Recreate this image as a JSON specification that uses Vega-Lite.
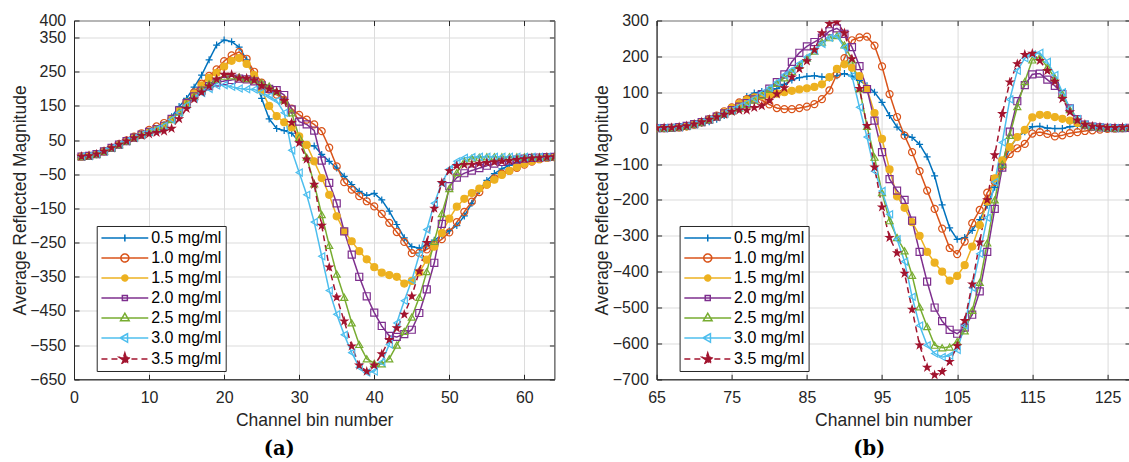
{
"$schema": "https://vega.github.io/schema/vega-lite/v6.json",
"background": "white",
"padding": {"left": 10, "top": 11.5, "right": 0, "bottom": 0},
"config": {
  "font": "Liberation Sans",
  "view": {"stroke": "#262626", "strokeWidth": 1},
  "axis": {"labelFont": "Liberation Sans", "labelFontSize": 16, "labelColor": "#262626", "titleFont": "Liberation Sans", "titleFontSize": 17.5, "titleFontWeight": "normal", "titleColor": "#262626", "domainColor": "#262626", "tickColor": "#262626", "gridColor": "#dcdcdc", "labelFlush": false, "labelOverlap": false},
  "legend": {"title": null, "orient": "none", "legendY": 205.5, "fillColor": "white", "strokeColor": "#262626", "padding": 4, "cornerRadius": 0, "labelFont": "Liberation Sans", "labelFontSize": 16, "labelColor": "#000000", "symbolSize": 144, "symbolStrokeWidth": 1.5, "symbolOpacity": 1, "symbolOffset": 16.15, "labelOffset": 18.3, "rowPadding": 4}
},
"data": {"values": [
{"p":"a","s":"0.5","c":1,"v":2},{"p":"a","s":"0.5","c":2,"v":4},{"p":"a","s":"0.5","c":3,"v":9},{"p":"a","s":"0.5","c":4,"v":17},{"p":"a","s":"0.5","c":5,"v":27},{"p":"a","s":"0.5","c":6,"v":37},{"p":"a","s":"0.5","c":7,"v":47},{"p":"a","s":"0.5","c":8,"v":57},{"p":"a","s":"0.5","c":9,"v":66},{"p":"a","s":"0.5","c":10,"v":74},
{"p":"a","s":"0.5","c":11,"v":82},{"p":"a","s":"0.5","c":12,"v":95},{"p":"a","s":"0.5","c":13,"v":118},{"p":"a","s":"0.5","c":14,"v":148},{"p":"a","s":"0.5","c":15,"v":172},{"p":"a","s":"0.5","c":16,"v":205},{"p":"a","s":"0.5","c":17,"v":240},{"p":"a","s":"0.5","c":18,"v":285},{"p":"a","s":"0.5","c":19,"v":328},{"p":"a","s":"0.5","c":20,"v":343},
{"p":"a","s":"0.5","c":21,"v":338},{"p":"a","s":"0.5","c":22,"v":322},{"p":"a","s":"0.5","c":23,"v":285},{"p":"a","s":"0.5","c":24,"v":235},{"p":"a","s":"0.5","c":25,"v":172},{"p":"a","s":"0.5","c":26,"v":112},{"p":"a","s":"0.5","c":27,"v":84},{"p":"a","s":"0.5","c":28,"v":78},{"p":"a","s":"0.5","c":29,"v":70},{"p":"a","s":"0.5","c":30,"v":45},
{"p":"a","s":"0.5","c":31,"v":35},{"p":"a","s":"0.5","c":32,"v":33},{"p":"a","s":"0.5","c":33,"v":8},{"p":"a","s":"0.5","c":34,"v":-12},{"p":"a","s":"0.5","c":35,"v":-32},{"p":"a","s":"0.5","c":36,"v":-56},{"p":"a","s":"0.5","c":37,"v":-80},{"p":"a","s":"0.5","c":38,"v":-100},{"p":"a","s":"0.5","c":39,"v":-112},{"p":"a","s":"0.5","c":40,"v":-106},
{"p":"a","s":"0.5","c":41,"v":-125},{"p":"a","s":"0.5","c":42,"v":-158},{"p":"a","s":"0.5","c":43,"v":-197},{"p":"a","s":"0.5","c":44,"v":-236},{"p":"a","s":"0.5","c":45,"v":-262},{"p":"a","s":"0.5","c":46,"v":-266},{"p":"a","s":"0.5","c":47,"v":-258},{"p":"a","s":"0.5","c":48,"v":-243},{"p":"a","s":"0.5","c":49,"v":-228},{"p":"a","s":"0.5","c":50,"v":-215},
{"p":"a","s":"0.5","c":51,"v":-200},{"p":"a","s":"0.5","c":52,"v":-172},{"p":"a","s":"0.5","c":53,"v":-135},{"p":"a","s":"0.5","c":54,"v":-98},{"p":"a","s":"0.5","c":55,"v":-68},{"p":"a","s":"0.5","c":56,"v":-48},{"p":"a","s":"0.5","c":57,"v":-34},{"p":"a","s":"0.5","c":58,"v":-24},{"p":"a","s":"0.5","c":59,"v":-16},{"p":"a","s":"0.5","c":60,"v":-10},
{"p":"a","s":"0.5","c":61,"v":-6},{"p":"a","s":"0.5","c":62,"v":-3},{"p":"a","s":"0.5","c":63,"v":-1},{"p":"a","s":"0.5","c":64,"v":1},
{"p":"a","s":"1.0","c":1,"v":2},{"p":"a","s":"1.0","c":2,"v":4},{"p":"a","s":"1.0","c":3,"v":9},{"p":"a","s":"1.0","c":4,"v":17},{"p":"a","s":"1.0","c":5,"v":27},{"p":"a","s":"1.0","c":6,"v":38},{"p":"a","s":"1.0","c":7,"v":49},{"p":"a","s":"1.0","c":8,"v":60},{"p":"a","s":"1.0","c":9,"v":70},{"p":"a","s":"1.0","c":10,"v":80},
{"p":"a","s":"1.0","c":11,"v":90},{"p":"a","s":"1.0","c":12,"v":100},{"p":"a","s":"1.0","c":13,"v":112},{"p":"a","s":"1.0","c":14,"v":135},{"p":"a","s":"1.0","c":15,"v":160},{"p":"a","s":"1.0","c":16,"v":190},{"p":"a","s":"1.0","c":17,"v":215},{"p":"a","s":"1.0","c":18,"v":238},{"p":"a","s":"1.0","c":19,"v":257},{"p":"a","s":"1.0","c":20,"v":281},
{"p":"a","s":"1.0","c":21,"v":298},{"p":"a","s":"1.0","c":22,"v":308},{"p":"a","s":"1.0","c":23,"v":288},{"p":"a","s":"1.0","c":24,"v":250},{"p":"a","s":"1.0","c":25,"v":218},{"p":"a","s":"1.0","c":26,"v":198},{"p":"a","s":"1.0","c":27,"v":183},{"p":"a","s":"1.0","c":28,"v":168},{"p":"a","s":"1.0","c":29,"v":142},{"p":"a","s":"1.0","c":30,"v":124},
{"p":"a","s":"1.0","c":31,"v":110},{"p":"a","s":"1.0","c":32,"v":96},{"p":"a","s":"1.0","c":33,"v":76},{"p":"a","s":"1.0","c":34,"v":28},{"p":"a","s":"1.0","c":35,"v":-27},{"p":"a","s":"1.0","c":36,"v":-73},{"p":"a","s":"1.0","c":37,"v":-95},{"p":"a","s":"1.0","c":38,"v":-114},{"p":"a","s":"1.0","c":39,"v":-129},{"p":"a","s":"1.0","c":40,"v":-144},
{"p":"a","s":"1.0","c":41,"v":-166},{"p":"a","s":"1.0","c":42,"v":-192},{"p":"a","s":"1.0","c":43,"v":-219},{"p":"a","s":"1.0","c":44,"v":-248},{"p":"a","s":"1.0","c":45,"v":-281},{"p":"a","s":"1.0","c":46,"v":-280},{"p":"a","s":"1.0","c":47,"v":-270},{"p":"a","s":"1.0","c":48,"v":-257},{"p":"a","s":"1.0","c":49,"v":-240},{"p":"a","s":"1.0","c":50,"v":-220},
{"p":"a","s":"1.0","c":51,"v":-190},{"p":"a","s":"1.0","c":52,"v":-160},{"p":"a","s":"1.0","c":53,"v":-130},{"p":"a","s":"1.0","c":54,"v":-102},{"p":"a","s":"1.0","c":55,"v":-80},{"p":"a","s":"1.0","c":56,"v":-62},{"p":"a","s":"1.0","c":57,"v":-48},{"p":"a","s":"1.0","c":58,"v":-40},{"p":"a","s":"1.0","c":59,"v":-31},{"p":"a","s":"1.0","c":60,"v":-22},
{"p":"a","s":"1.0","c":61,"v":-13},{"p":"a","s":"1.0","c":62,"v":-6},{"p":"a","s":"1.0","c":63,"v":-2},{"p":"a","s":"1.0","c":64,"v":0},
{"p":"a","s":"1.5","c":1,"v":2},{"p":"a","s":"1.5","c":2,"v":4},{"p":"a","s":"1.5","c":3,"v":9},{"p":"a","s":"1.5","c":4,"v":17},{"p":"a","s":"1.5","c":5,"v":27},{"p":"a","s":"1.5","c":6,"v":37},{"p":"a","s":"1.5","c":7,"v":47},{"p":"a","s":"1.5","c":8,"v":57},{"p":"a","s":"1.5","c":9,"v":66},{"p":"a","s":"1.5","c":10,"v":74},
{"p":"a","s":"1.5","c":11,"v":82},{"p":"a","s":"1.5","c":12,"v":92},{"p":"a","s":"1.5","c":13,"v":112},{"p":"a","s":"1.5","c":14,"v":135},{"p":"a","s":"1.5","c":15,"v":160},{"p":"a","s":"1.5","c":16,"v":185},{"p":"a","s":"1.5","c":17,"v":210},{"p":"a","s":"1.5","c":18,"v":232},{"p":"a","s":"1.5","c":19,"v":247},{"p":"a","s":"1.5","c":20,"v":265},
{"p":"a","s":"1.5","c":21,"v":282},{"p":"a","s":"1.5","c":22,"v":290},{"p":"a","s":"1.5","c":23,"v":273},{"p":"a","s":"1.5","c":24,"v":240},{"p":"a","s":"1.5","c":25,"v":195},{"p":"a","s":"1.5","c":26,"v":150},{"p":"a","s":"1.5","c":27,"v":120},{"p":"a","s":"1.5","c":28,"v":102},{"p":"a","s":"1.5","c":29,"v":87},{"p":"a","s":"1.5","c":30,"v":61},
{"p":"a","s":"1.5","c":31,"v":36},{"p":"a","s":"1.5","c":32,"v":-12},{"p":"a","s":"1.5","c":33,"v":-61},{"p":"a","s":"1.5","c":34,"v":-110},{"p":"a","s":"1.5","c":35,"v":-173},{"p":"a","s":"1.5","c":36,"v":-217},{"p":"a","s":"1.5","c":37,"v":-246},{"p":"a","s":"1.5","c":38,"v":-275},{"p":"a","s":"1.5","c":39,"v":-299},{"p":"a","s":"1.5","c":40,"v":-322},
{"p":"a","s":"1.5","c":41,"v":-338},{"p":"a","s":"1.5","c":42,"v":-345},{"p":"a","s":"1.5","c":43,"v":-350},{"p":"a","s":"1.5","c":44,"v":-370},{"p":"a","s":"1.5","c":45,"v":-362},{"p":"a","s":"1.5","c":46,"v":-337},{"p":"a","s":"1.5","c":47,"v":-300},{"p":"a","s":"1.5","c":48,"v":-262},{"p":"a","s":"1.5","c":49,"v":-222},{"p":"a","s":"1.5","c":50,"v":-180},
{"p":"a","s":"1.5","c":51,"v":-145},{"p":"a","s":"1.5","c":52,"v":-122},{"p":"a","s":"1.5","c":53,"v":-105},{"p":"a","s":"1.5","c":54,"v":-92},{"p":"a","s":"1.5","c":55,"v":-80},{"p":"a","s":"1.5","c":56,"v":-66},{"p":"a","s":"1.5","c":57,"v":-52},{"p":"a","s":"1.5","c":58,"v":-40},{"p":"a","s":"1.5","c":59,"v":-29},{"p":"a","s":"1.5","c":60,"v":-19},
{"p":"a","s":"1.5","c":61,"v":-11},{"p":"a","s":"1.5","c":62,"v":-5},{"p":"a","s":"1.5","c":63,"v":-2},{"p":"a","s":"1.5","c":64,"v":0},
{"p":"a","s":"2.0","c":1,"v":2},{"p":"a","s":"2.0","c":2,"v":4},{"p":"a","s":"2.0","c":3,"v":9},{"p":"a","s":"2.0","c":4,"v":17},{"p":"a","s":"2.0","c":5,"v":27},{"p":"a","s":"2.0","c":6,"v":37},{"p":"a","s":"2.0","c":7,"v":47},{"p":"a","s":"2.0","c":8,"v":57},{"p":"a","s":"2.0","c":9,"v":66},{"p":"a","s":"2.0","c":10,"v":74},
{"p":"a","s":"2.0","c":11,"v":82},{"p":"a","s":"2.0","c":12,"v":92},{"p":"a","s":"2.0","c":13,"v":112},{"p":"a","s":"2.0","c":14,"v":137},{"p":"a","s":"2.0","c":15,"v":158},{"p":"a","s":"2.0","c":16,"v":178},{"p":"a","s":"2.0","c":17,"v":195},{"p":"a","s":"2.0","c":18,"v":208},{"p":"a","s":"2.0","c":19,"v":218},{"p":"a","s":"2.0","c":20,"v":223},
{"p":"a","s":"2.0","c":21,"v":226},{"p":"a","s":"2.0","c":22,"v":230},{"p":"a","s":"2.0","c":23,"v":228},{"p":"a","s":"2.0","c":24,"v":222},{"p":"a","s":"2.0","c":25,"v":210},{"p":"a","s":"2.0","c":26,"v":200},{"p":"a","s":"2.0","c":27,"v":196},{"p":"a","s":"2.0","c":28,"v":182},{"p":"a","s":"2.0","c":29,"v":140},{"p":"a","s":"2.0","c":30,"v":104},
{"p":"a","s":"2.0","c":31,"v":96},{"p":"a","s":"2.0","c":32,"v":78},{"p":"a","s":"2.0","c":33,"v":-10},{"p":"a","s":"2.0","c":34,"v":-75},{"p":"a","s":"2.0","c":35,"v":-135},{"p":"a","s":"2.0","c":36,"v":-217},{"p":"a","s":"2.0","c":37,"v":-285},{"p":"a","s":"2.0","c":38,"v":-350},{"p":"a","s":"2.0","c":39,"v":-407},{"p":"a","s":"2.0","c":40,"v":-455},
{"p":"a","s":"2.0","c":41,"v":-494},{"p":"a","s":"2.0","c":42,"v":-523},{"p":"a","s":"2.0","c":43,"v":-526},{"p":"a","s":"2.0","c":44,"v":-518},{"p":"a","s":"2.0","c":45,"v":-505},{"p":"a","s":"2.0","c":46,"v":-456},{"p":"a","s":"2.0","c":47,"v":-387},{"p":"a","s":"2.0","c":48,"v":-309},{"p":"a","s":"2.0","c":49,"v":-195},{"p":"a","s":"2.0","c":50,"v":-85},
{"p":"a","s":"2.0","c":51,"v":-60},{"p":"a","s":"2.0","c":52,"v":-47},{"p":"a","s":"2.0","c":53,"v":-39},{"p":"a","s":"2.0","c":54,"v":-32},{"p":"a","s":"2.0","c":55,"v":-25},{"p":"a","s":"2.0","c":56,"v":-19},{"p":"a","s":"2.0","c":57,"v":-14},{"p":"a","s":"2.0","c":58,"v":-10},{"p":"a","s":"2.0","c":59,"v":-7},{"p":"a","s":"2.0","c":60,"v":-4},
{"p":"a","s":"2.0","c":61,"v":-2},{"p":"a","s":"2.0","c":62,"v":-1},{"p":"a","s":"2.0","c":63,"v":0},{"p":"a","s":"2.0","c":64,"v":1},
{"p":"a","s":"2.5","c":1,"v":2},{"p":"a","s":"2.5","c":2,"v":4},{"p":"a","s":"2.5","c":3,"v":9},{"p":"a","s":"2.5","c":4,"v":17},{"p":"a","s":"2.5","c":5,"v":27},{"p":"a","s":"2.5","c":6,"v":37},{"p":"a","s":"2.5","c":7,"v":47},{"p":"a","s":"2.5","c":8,"v":57},{"p":"a","s":"2.5","c":9,"v":66},{"p":"a","s":"2.5","c":10,"v":74},
{"p":"a","s":"2.5","c":11,"v":82},{"p":"a","s":"2.5","c":12,"v":92},{"p":"a","s":"2.5","c":13,"v":110},{"p":"a","s":"2.5","c":14,"v":132},{"p":"a","s":"2.5","c":15,"v":156},{"p":"a","s":"2.5","c":16,"v":178},{"p":"a","s":"2.5","c":17,"v":198},{"p":"a","s":"2.5","c":18,"v":215},{"p":"a","s":"2.5","c":19,"v":228},{"p":"a","s":"2.5","c":20,"v":237},
{"p":"a","s":"2.5","c":21,"v":238},{"p":"a","s":"2.5","c":22,"v":235},{"p":"a","s":"2.5","c":23,"v":230},{"p":"a","s":"2.5","c":24,"v":226},{"p":"a","s":"2.5","c":25,"v":218},{"p":"a","s":"2.5","c":26,"v":208},{"p":"a","s":"2.5","c":27,"v":192},{"p":"a","s":"2.5","c":28,"v":168},{"p":"a","s":"2.5","c":29,"v":130},{"p":"a","s":"2.5","c":30,"v":58},
{"p":"a","s":"2.5","c":31,"v":0},{"p":"a","s":"2.5","c":32,"v":-78},{"p":"a","s":"2.5","c":33,"v":-168},{"p":"a","s":"2.5","c":34,"v":-258},{"p":"a","s":"2.5","c":35,"v":-342},{"p":"a","s":"2.5","c":36,"v":-410},{"p":"a","s":"2.5","c":37,"v":-485},{"p":"a","s":"2.5","c":38,"v":-548},{"p":"a","s":"2.5","c":39,"v":-590},{"p":"a","s":"2.5","c":40,"v":-603},
{"p":"a","s":"2.5","c":41,"v":-605},{"p":"a","s":"2.5","c":42,"v":-590},{"p":"a","s":"2.5","c":43,"v":-550},{"p":"a","s":"2.5","c":44,"v":-510},{"p":"a","s":"2.5","c":45,"v":-468},{"p":"a","s":"2.5","c":46,"v":-410},{"p":"a","s":"2.5","c":47,"v":-335},{"p":"a","s":"2.5","c":48,"v":-246},{"p":"a","s":"2.5","c":49,"v":-165},{"p":"a","s":"2.5","c":50,"v":-92},
{"p":"a","s":"2.5","c":51,"v":-45},{"p":"a","s":"2.5","c":52,"v":-12},{"p":"a","s":"2.5","c":53,"v":-3},{"p":"a","s":"2.5","c":54,"v":0},{"p":"a","s":"2.5","c":55,"v":1},{"p":"a","s":"2.5","c":56,"v":1},{"p":"a","s":"2.5","c":57,"v":1},{"p":"a","s":"2.5","c":58,"v":1},{"p":"a","s":"2.5","c":59,"v":1},{"p":"a","s":"2.5","c":60,"v":1},
{"p":"a","s":"2.5","c":61,"v":1},{"p":"a","s":"2.5","c":62,"v":1},{"p":"a","s":"2.5","c":63,"v":1},{"p":"a","s":"2.5","c":64,"v":1},
{"p":"a","s":"3.0","c":1,"v":2},{"p":"a","s":"3.0","c":2,"v":4},{"p":"a","s":"3.0","c":3,"v":9},{"p":"a","s":"3.0","c":4,"v":17},{"p":"a","s":"3.0","c":5,"v":27},{"p":"a","s":"3.0","c":6,"v":37},{"p":"a","s":"3.0","c":7,"v":47},{"p":"a","s":"3.0","c":8,"v":57},{"p":"a","s":"3.0","c":9,"v":66},{"p":"a","s":"3.0","c":10,"v":74},
{"p":"a","s":"3.0","c":11,"v":82},{"p":"a","s":"3.0","c":12,"v":92},{"p":"a","s":"3.0","c":13,"v":110},{"p":"a","s":"3.0","c":14,"v":130},{"p":"a","s":"3.0","c":15,"v":152},{"p":"a","s":"3.0","c":16,"v":172},{"p":"a","s":"3.0","c":17,"v":188},{"p":"a","s":"3.0","c":18,"v":200},{"p":"a","s":"3.0","c":19,"v":210},{"p":"a","s":"3.0","c":20,"v":211},
{"p":"a","s":"3.0","c":21,"v":206},{"p":"a","s":"3.0","c":22,"v":201},{"p":"a","s":"3.0","c":23,"v":199},{"p":"a","s":"3.0","c":24,"v":198},{"p":"a","s":"3.0","c":25,"v":190},{"p":"a","s":"3.0","c":26,"v":178},{"p":"a","s":"3.0","c":27,"v":165},{"p":"a","s":"3.0","c":28,"v":130},{"p":"a","s":"3.0","c":29,"v":20},{"p":"a","s":"3.0","c":30,"v":-45},
{"p":"a","s":"3.0","c":31,"v":-110},{"p":"a","s":"3.0","c":32,"v":-190},{"p":"a","s":"3.0","c":33,"v":-290},{"p":"a","s":"3.0","c":34,"v":-390},{"p":"a","s":"3.0","c":35,"v":-460},{"p":"a","s":"3.0","c":36,"v":-520},{"p":"a","s":"3.0","c":37,"v":-572},{"p":"a","s":"3.0","c":38,"v":-615},{"p":"a","s":"3.0","c":39,"v":-630},{"p":"a","s":"3.0","c":40,"v":-627},
{"p":"a","s":"3.0","c":41,"v":-600},{"p":"a","s":"3.0","c":42,"v":-548},{"p":"a","s":"3.0","c":43,"v":-485},{"p":"a","s":"3.0","c":44,"v":-420},{"p":"a","s":"3.0","c":45,"v":-360},{"p":"a","s":"3.0","c":46,"v":-285},{"p":"a","s":"3.0","c":47,"v":-212},{"p":"a","s":"3.0","c":48,"v":-135},{"p":"a","s":"3.0","c":49,"v":-75},{"p":"a","s":"3.0","c":50,"v":-35},
{"p":"a","s":"3.0","c":51,"v":-12},{"p":"a","s":"3.0","c":52,"v":-2},{"p":"a","s":"3.0","c":53,"v":0},{"p":"a","s":"3.0","c":54,"v":1},{"p":"a","s":"3.0","c":55,"v":1},{"p":"a","s":"3.0","c":56,"v":1},{"p":"a","s":"3.0","c":57,"v":1},{"p":"a","s":"3.0","c":58,"v":1},{"p":"a","s":"3.0","c":59,"v":1},{"p":"a","s":"3.0","c":60,"v":1},
{"p":"a","s":"3.0","c":61,"v":1},{"p":"a","s":"3.0","c":62,"v":1},{"p":"a","s":"3.0","c":63,"v":1},{"p":"a","s":"3.0","c":64,"v":1},
{"p":"a","s":"3.5","c":1,"v":2},{"p":"a","s":"3.5","c":2,"v":4},{"p":"a","s":"3.5","c":3,"v":9},{"p":"a","s":"3.5","c":4,"v":17},{"p":"a","s":"3.5","c":5,"v":27},{"p":"a","s":"3.5","c":6,"v":37},{"p":"a","s":"3.5","c":7,"v":47},{"p":"a","s":"3.5","c":8,"v":56},{"p":"a","s":"3.5","c":9,"v":63},{"p":"a","s":"3.5","c":10,"v":68},
{"p":"a","s":"3.5","c":11,"v":72},{"p":"a","s":"3.5","c":12,"v":76},{"p":"a","s":"3.5","c":13,"v":84},{"p":"a","s":"3.5","c":14,"v":112},{"p":"a","s":"3.5","c":15,"v":142},{"p":"a","s":"3.5","c":16,"v":170},{"p":"a","s":"3.5","c":17,"v":190},{"p":"a","s":"3.5","c":18,"v":208},{"p":"a","s":"3.5","c":19,"v":228},{"p":"a","s":"3.5","c":20,"v":242},
{"p":"a","s":"3.5","c":21,"v":242},{"p":"a","s":"3.5","c":22,"v":231},{"p":"a","s":"3.5","c":23,"v":231},{"p":"a","s":"3.5","c":24,"v":225},{"p":"a","s":"3.5","c":25,"v":209},{"p":"a","s":"3.5","c":26,"v":199},{"p":"a","s":"3.5","c":27,"v":192},{"p":"a","s":"3.5","c":28,"v":165},{"p":"a","s":"3.5","c":29,"v":101},{"p":"a","s":"3.5","c":30,"v":42},
{"p":"a","s":"3.5","c":31,"v":-6},{"p":"a","s":"3.5","c":32,"v":-80},{"p":"a","s":"3.5","c":33,"v":-200},{"p":"a","s":"3.5","c":34,"v":-322},{"p":"a","s":"3.5","c":35,"v":-410},{"p":"a","s":"3.5","c":36,"v":-480},{"p":"a","s":"3.5","c":37,"v":-553},{"p":"a","s":"3.5","c":38,"v":-609},{"p":"a","s":"3.5","c":39,"v":-627},{"p":"a","s":"3.5","c":40,"v":-609},
{"p":"a","s":"3.5","c":41,"v":-576},{"p":"a","s":"3.5","c":42,"v":-534},{"p":"a","s":"3.5","c":43,"v":-500},{"p":"a","s":"3.5","c":44,"v":-460},{"p":"a","s":"3.5","c":45,"v":-407},{"p":"a","s":"3.5","c":46,"v":-334},{"p":"a","s":"3.5","c":47,"v":-250},{"p":"a","s":"3.5","c":48,"v":-150},{"p":"a","s":"3.5","c":49,"v":-75},{"p":"a","s":"3.5","c":50,"v":-40},
{"p":"a","s":"3.5","c":51,"v":-25},{"p":"a","s":"3.5","c":52,"v":-22},{"p":"a","s":"3.5","c":53,"v":-21},{"p":"a","s":"3.5","c":54,"v":-18},{"p":"a","s":"3.5","c":55,"v":-16},{"p":"a","s":"3.5","c":56,"v":-14},{"p":"a","s":"3.5","c":57,"v":-12},{"p":"a","s":"3.5","c":58,"v":-10},{"p":"a","s":"3.5","c":59,"v":-7},{"p":"a","s":"3.5","c":60,"v":-5},
{"p":"a","s":"3.5","c":61,"v":-3},{"p":"a","s":"3.5","c":62,"v":-2},{"p":"a","s":"3.5","c":63,"v":0},{"p":"a","s":"3.5","c":64,"v":1},
{"p":"b","s":"0.5","c":65,"v":0},{"p":"b","s":"0.5","c":66,"v":0},{"p":"b","s":"0.5","c":67,"v":1},{"p":"b","s":"0.5","c":68,"v":2},{"p":"b","s":"0.5","c":69,"v":4},{"p":"b","s":"0.5","c":70,"v":8},{"p":"b","s":"0.5","c":71,"v":13},{"p":"b","s":"0.5","c":72,"v":18},{"p":"b","s":"0.5","c":73,"v":25},{"p":"b","s":"0.5","c":74,"v":35},
{"p":"b","s":"0.5","c":75,"v":50},{"p":"b","s":"0.5","c":76,"v":70},{"p":"b","s":"0.5","c":77,"v":88},{"p":"b","s":"0.5","c":78,"v":98},{"p":"b","s":"0.5","c":79,"v":102},{"p":"b","s":"0.5","c":80,"v":100},{"p":"b","s":"0.5","c":81,"v":110},{"p":"b","s":"0.5","c":82,"v":122},{"p":"b","s":"0.5","c":83,"v":134},{"p":"b","s":"0.5","c":84,"v":141},
{"p":"b","s":"0.5","c":85,"v":144},{"p":"b","s":"0.5","c":86,"v":146},{"p":"b","s":"0.5","c":87,"v":143},{"p":"b","s":"0.5","c":88,"v":140},{"p":"b","s":"0.5","c":89,"v":146},{"p":"b","s":"0.5","c":90,"v":152},{"p":"b","s":"0.5","c":91,"v":145},{"p":"b","s":"0.5","c":92,"v":133},{"p":"b","s":"0.5","c":93,"v":118},{"p":"b","s":"0.5","c":94,"v":100},
{"p":"b","s":"0.5","c":95,"v":72},{"p":"b","s":"0.5","c":96,"v":35},{"p":"b","s":"0.5","c":97,"v":3},{"p":"b","s":"0.5","c":98,"v":-18},{"p":"b","s":"0.5","c":99,"v":-26},{"p":"b","s":"0.5","c":100,"v":-45},{"p":"b","s":"0.5","c":101,"v":-80},{"p":"b","s":"0.5","c":102,"v":-133},{"p":"b","s":"0.5","c":103,"v":-214},{"p":"b","s":"0.5","c":104,"v":-278},
{"p":"b","s":"0.5","c":105,"v":-310},{"p":"b","s":"0.5","c":106,"v":-305},{"p":"b","s":"0.5","c":107,"v":-285},{"p":"b","s":"0.5","c":108,"v":-255},{"p":"b","s":"0.5","c":109,"v":-215},{"p":"b","s":"0.5","c":110,"v":-165},{"p":"b","s":"0.5","c":111,"v":-110},{"p":"b","s":"0.5","c":112,"v":-55},{"p":"b","s":"0.5","c":113,"v":-25},{"p":"b","s":"0.5","c":114,"v":-10},
{"p":"b","s":"0.5","c":115,"v":4},{"p":"b","s":"0.5","c":116,"v":5},{"p":"b","s":"0.5","c":117,"v":0},{"p":"b","s":"0.5","c":118,"v":-1},{"p":"b","s":"0.5","c":119,"v":-1},{"p":"b","s":"0.5","c":120,"v":4},{"p":"b","s":"0.5","c":121,"v":6},{"p":"b","s":"0.5","c":122,"v":5},{"p":"b","s":"0.5","c":123,"v":3},{"p":"b","s":"0.5","c":124,"v":2},
{"p":"b","s":"0.5","c":125,"v":1},{"p":"b","s":"0.5","c":126,"v":0},{"p":"b","s":"0.5","c":127,"v":0},{"p":"b","s":"0.5","c":128,"v":0},
{"p":"b","s":"1.0","c":65,"v":0},{"p":"b","s":"1.0","c":66,"v":0},{"p":"b","s":"1.0","c":67,"v":1},{"p":"b","s":"1.0","c":68,"v":2},{"p":"b","s":"1.0","c":69,"v":5},{"p":"b","s":"1.0","c":70,"v":10},{"p":"b","s":"1.0","c":71,"v":17},{"p":"b","s":"1.0","c":72,"v":25},{"p":"b","s":"1.0","c":73,"v":35},{"p":"b","s":"1.0","c":74,"v":47},
{"p":"b","s":"1.0","c":75,"v":58},{"p":"b","s":"1.0","c":76,"v":72},{"p":"b","s":"1.0","c":77,"v":81},{"p":"b","s":"1.0","c":78,"v":86},{"p":"b","s":"1.0","c":79,"v":78},{"p":"b","s":"1.0","c":80,"v":66},{"p":"b","s":"1.0","c":81,"v":56},{"p":"b","s":"1.0","c":82,"v":53},{"p":"b","s":"1.0","c":83,"v":53},{"p":"b","s":"1.0","c":84,"v":56},
{"p":"b","s":"1.0","c":85,"v":60},{"p":"b","s":"1.0","c":86,"v":67},{"p":"b","s":"1.0","c":87,"v":81},{"p":"b","s":"1.0","c":88,"v":105},{"p":"b","s":"1.0","c":89,"v":150},{"p":"b","s":"1.0","c":90,"v":195},{"p":"b","s":"1.0","c":91,"v":245},{"p":"b","s":"1.0","c":92,"v":253},{"p":"b","s":"1.0","c":93,"v":255},{"p":"b","s":"1.0","c":94,"v":230},
{"p":"b","s":"1.0","c":95,"v":172},{"p":"b","s":"1.0","c":96,"v":95},{"p":"b","s":"1.0","c":97,"v":31},{"p":"b","s":"1.0","c":98,"v":-21},{"p":"b","s":"1.0","c":99,"v":-67},{"p":"b","s":"1.0","c":100,"v":-120},{"p":"b","s":"1.0","c":101,"v":-174},{"p":"b","s":"1.0","c":102,"v":-225},{"p":"b","s":"1.0","c":103,"v":-280},{"p":"b","s":"1.0","c":104,"v":-334},
{"p":"b","s":"1.0","c":105,"v":-351},{"p":"b","s":"1.0","c":106,"v":-316},{"p":"b","s":"1.0","c":107,"v":-265},{"p":"b","s":"1.0","c":108,"v":-228},{"p":"b","s":"1.0","c":109,"v":-180},{"p":"b","s":"1.0","c":110,"v":-150},{"p":"b","s":"1.0","c":111,"v":-105},{"p":"b","s":"1.0","c":112,"v":-72},{"p":"b","s":"1.0","c":113,"v":-56},{"p":"b","s":"1.0","c":114,"v":-44},
{"p":"b","s":"1.0","c":115,"v":-15},{"p":"b","s":"1.0","c":116,"v":-11},{"p":"b","s":"1.0","c":117,"v":-16},{"p":"b","s":"1.0","c":118,"v":-23},{"p":"b","s":"1.0","c":119,"v":-20},{"p":"b","s":"1.0","c":120,"v":-14},{"p":"b","s":"1.0","c":121,"v":-11},{"p":"b","s":"1.0","c":122,"v":-8},{"p":"b","s":"1.0","c":123,"v":-6},{"p":"b","s":"1.0","c":124,"v":-4},
{"p":"b","s":"1.0","c":125,"v":-2},{"p":"b","s":"1.0","c":126,"v":-1},{"p":"b","s":"1.0","c":127,"v":0},{"p":"b","s":"1.0","c":128,"v":0},
{"p":"b","s":"1.5","c":65,"v":0},{"p":"b","s":"1.5","c":66,"v":0},{"p":"b","s":"1.5","c":67,"v":1},{"p":"b","s":"1.5","c":68,"v":2},{"p":"b","s":"1.5","c":69,"v":5},{"p":"b","s":"1.5","c":70,"v":10},{"p":"b","s":"1.5","c":71,"v":16},{"p":"b","s":"1.5","c":72,"v":24},{"p":"b","s":"1.5","c":73,"v":33},{"p":"b","s":"1.5","c":74,"v":44},
{"p":"b","s":"1.5","c":75,"v":56},{"p":"b","s":"1.5","c":76,"v":68},{"p":"b","s":"1.5","c":77,"v":78},{"p":"b","s":"1.5","c":78,"v":85},{"p":"b","s":"1.5","c":79,"v":90},{"p":"b","s":"1.5","c":80,"v":93},{"p":"b","s":"1.5","c":81,"v":96},{"p":"b","s":"1.5","c":82,"v":100},{"p":"b","s":"1.5","c":83,"v":104},{"p":"b","s":"1.5","c":84,"v":108},
{"p":"b","s":"1.5","c":85,"v":111},{"p":"b","s":"1.5","c":86,"v":115},{"p":"b","s":"1.5","c":87,"v":122},{"p":"b","s":"1.5","c":88,"v":142},{"p":"b","s":"1.5","c":89,"v":165},{"p":"b","s":"1.5","c":90,"v":178},{"p":"b","s":"1.5","c":91,"v":168},{"p":"b","s":"1.5","c":92,"v":145},{"p":"b","s":"1.5","c":93,"v":110},{"p":"b","s":"1.5","c":94,"v":42},
{"p":"b","s":"1.5","c":95,"v":-30},{"p":"b","s":"1.5","c":96,"v":-115},{"p":"b","s":"1.5","c":97,"v":-190},{"p":"b","s":"1.5","c":98,"v":-222},{"p":"b","s":"1.5","c":99,"v":-262},{"p":"b","s":"1.5","c":100,"v":-300},{"p":"b","s":"1.5","c":101,"v":-345},{"p":"b","s":"1.5","c":102,"v":-375},{"p":"b","s":"1.5","c":103,"v":-400},{"p":"b","s":"1.5","c":104,"v":-425},
{"p":"b","s":"1.5","c":105,"v":-412},{"p":"b","s":"1.5","c":106,"v":-382},{"p":"b","s":"1.5","c":107,"v":-330},{"p":"b","s":"1.5","c":108,"v":-270},{"p":"b","s":"1.5","c":109,"v":-205},{"p":"b","s":"1.5","c":110,"v":-140},{"p":"b","s":"1.5","c":111,"v":-90},{"p":"b","s":"1.5","c":112,"v":-53},{"p":"b","s":"1.5","c":113,"v":-25},{"p":"b","s":"1.5","c":114,"v":-5},
{"p":"b","s":"1.5","c":115,"v":30},{"p":"b","s":"1.5","c":116,"v":37},{"p":"b","s":"1.5","c":117,"v":36},{"p":"b","s":"1.5","c":118,"v":31},{"p":"b","s":"1.5","c":119,"v":26},{"p":"b","s":"1.5","c":120,"v":21},{"p":"b","s":"1.5","c":121,"v":14},{"p":"b","s":"1.5","c":122,"v":8},{"p":"b","s":"1.5","c":123,"v":4},{"p":"b","s":"1.5","c":124,"v":2},
{"p":"b","s":"1.5","c":125,"v":1},{"p":"b","s":"1.5","c":126,"v":0},{"p":"b","s":"1.5","c":127,"v":0},{"p":"b","s":"1.5","c":128,"v":0},
{"p":"b","s":"2.0","c":65,"v":0},{"p":"b","s":"2.0","c":66,"v":0},{"p":"b","s":"2.0","c":67,"v":1},{"p":"b","s":"2.0","c":68,"v":3},{"p":"b","s":"2.0","c":69,"v":6},{"p":"b","s":"2.0","c":70,"v":11},{"p":"b","s":"2.0","c":71,"v":17},{"p":"b","s":"2.0","c":72,"v":24},{"p":"b","s":"2.0","c":73,"v":32},{"p":"b","s":"2.0","c":74,"v":41},
{"p":"b","s":"2.0","c":75,"v":50},{"p":"b","s":"2.0","c":76,"v":60},{"p":"b","s":"2.0","c":77,"v":70},{"p":"b","s":"2.0","c":78,"v":80},{"p":"b","s":"2.0","c":79,"v":95},{"p":"b","s":"2.0","c":80,"v":110},{"p":"b","s":"2.0","c":81,"v":128},{"p":"b","s":"2.0","c":82,"v":150},{"p":"b","s":"2.0","c":83,"v":185},{"p":"b","s":"2.0","c":84,"v":210},
{"p":"b","s":"2.0","c":85,"v":228},{"p":"b","s":"2.0","c":86,"v":240},{"p":"b","s":"2.0","c":87,"v":252},{"p":"b","s":"2.0","c":88,"v":270},{"p":"b","s":"2.0","c":89,"v":278},{"p":"b","s":"2.0","c":90,"v":263},{"p":"b","s":"2.0","c":91,"v":226},{"p":"b","s":"2.0","c":92,"v":173},{"p":"b","s":"2.0","c":93,"v":109},{"p":"b","s":"2.0","c":94,"v":21},
{"p":"b","s":"2.0","c":95,"v":-67},{"p":"b","s":"2.0","c":96,"v":-142},{"p":"b","s":"2.0","c":97,"v":-174},{"p":"b","s":"2.0","c":98,"v":-200},{"p":"b","s":"2.0","c":99,"v":-258},{"p":"b","s":"2.0","c":100,"v":-345},{"p":"b","s":"2.0","c":101,"v":-428},{"p":"b","s":"2.0","c":102,"v":-500},{"p":"b","s":"2.0","c":103,"v":-538},{"p":"b","s":"2.0","c":104,"v":-562},
{"p":"b","s":"2.0","c":105,"v":-573},{"p":"b","s":"2.0","c":106,"v":-556},{"p":"b","s":"2.0","c":107,"v":-520},{"p":"b","s":"2.0","c":108,"v":-455},{"p":"b","s":"2.0","c":109,"v":-345},{"p":"b","s":"2.0","c":110,"v":-225},{"p":"b","s":"2.0","c":111,"v":-110},{"p":"b","s":"2.0","c":112,"v":-10},{"p":"b","s":"2.0","c":113,"v":75},{"p":"b","s":"2.0","c":114,"v":120},
{"p":"b","s":"2.0","c":115,"v":150},{"p":"b","s":"2.0","c":116,"v":152},{"p":"b","s":"2.0","c":117,"v":135},{"p":"b","s":"2.0","c":118,"v":118},{"p":"b","s":"2.0","c":119,"v":95},{"p":"b","s":"2.0","c":120,"v":55},{"p":"b","s":"2.0","c":121,"v":25},{"p":"b","s":"2.0","c":122,"v":10},{"p":"b","s":"2.0","c":123,"v":4},{"p":"b","s":"2.0","c":124,"v":2},
{"p":"b","s":"2.0","c":125,"v":1},{"p":"b","s":"2.0","c":126,"v":0},{"p":"b","s":"2.0","c":127,"v":0},{"p":"b","s":"2.0","c":128,"v":1},
{"p":"b","s":"2.5","c":65,"v":0},{"p":"b","s":"2.5","c":66,"v":0},{"p":"b","s":"2.5","c":67,"v":1},{"p":"b","s":"2.5","c":68,"v":3},{"p":"b","s":"2.5","c":69,"v":6},{"p":"b","s":"2.5","c":70,"v":11},{"p":"b","s":"2.5","c":71,"v":17},{"p":"b","s":"2.5","c":72,"v":24},{"p":"b","s":"2.5","c":73,"v":32},{"p":"b","s":"2.5","c":74,"v":40},
{"p":"b","s":"2.5","c":75,"v":48},{"p":"b","s":"2.5","c":76,"v":56},{"p":"b","s":"2.5","c":77,"v":66},{"p":"b","s":"2.5","c":78,"v":78},{"p":"b","s":"2.5","c":79,"v":92},{"p":"b","s":"2.5","c":80,"v":108},{"p":"b","s":"2.5","c":81,"v":125},{"p":"b","s":"2.5","c":82,"v":140},{"p":"b","s":"2.5","c":83,"v":158},{"p":"b","s":"2.5","c":84,"v":175},
{"p":"b","s":"2.5","c":85,"v":195},{"p":"b","s":"2.5","c":86,"v":215},{"p":"b","s":"2.5","c":87,"v":240},{"p":"b","s":"2.5","c":88,"v":252},{"p":"b","s":"2.5","c":89,"v":258},{"p":"b","s":"2.5","c":90,"v":232},{"p":"b","s":"2.5","c":91,"v":190},{"p":"b","s":"2.5","c":92,"v":110},{"p":"b","s":"2.5","c":93,"v":5},{"p":"b","s":"2.5","c":94,"v":-81},
{"p":"b","s":"2.5","c":95,"v":-180},{"p":"b","s":"2.5","c":96,"v":-258},{"p":"b","s":"2.5","c":97,"v":-305},{"p":"b","s":"2.5","c":98,"v":-342},{"p":"b","s":"2.5","c":99,"v":-410},{"p":"b","s":"2.5","c":100,"v":-498},{"p":"b","s":"2.5","c":101,"v":-553},{"p":"b","s":"2.5","c":102,"v":-605},{"p":"b","s":"2.5","c":103,"v":-612},{"p":"b","s":"2.5","c":104,"v":-610},
{"p":"b","s":"2.5","c":105,"v":-595},{"p":"b","s":"2.5","c":106,"v":-565},{"p":"b","s":"2.5","c":107,"v":-508},{"p":"b","s":"2.5","c":108,"v":-430},{"p":"b","s":"2.5","c":109,"v":-320},{"p":"b","s":"2.5","c":110,"v":-200},{"p":"b","s":"2.5","c":111,"v":-100},{"p":"b","s":"2.5","c":112,"v":-20},{"p":"b","s":"2.5","c":113,"v":60},{"p":"b","s":"2.5","c":114,"v":130},
{"p":"b","s":"2.5","c":115,"v":190},{"p":"b","s":"2.5","c":116,"v":198},{"p":"b","s":"2.5","c":117,"v":170},{"p":"b","s":"2.5","c":118,"v":140},{"p":"b","s":"2.5","c":119,"v":95},{"p":"b","s":"2.5","c":120,"v":52},{"p":"b","s":"2.5","c":121,"v":25},{"p":"b","s":"2.5","c":122,"v":10},{"p":"b","s":"2.5","c":123,"v":4},{"p":"b","s":"2.5","c":124,"v":2},
{"p":"b","s":"2.5","c":125,"v":1},{"p":"b","s":"2.5","c":126,"v":0},{"p":"b","s":"2.5","c":127,"v":1},{"p":"b","s":"2.5","c":128,"v":2},
{"p":"b","s":"3.0","c":65,"v":0},{"p":"b","s":"3.0","c":66,"v":0},{"p":"b","s":"3.0","c":67,"v":1},{"p":"b","s":"3.0","c":68,"v":3},{"p":"b","s":"3.0","c":69,"v":6},{"p":"b","s":"3.0","c":70,"v":11},{"p":"b","s":"3.0","c":71,"v":17},{"p":"b","s":"3.0","c":72,"v":24},{"p":"b","s":"3.0","c":73,"v":32},{"p":"b","s":"3.0","c":74,"v":41},
{"p":"b","s":"3.0","c":75,"v":50},{"p":"b","s":"3.0","c":76,"v":60},{"p":"b","s":"3.0","c":77,"v":70},{"p":"b","s":"3.0","c":78,"v":82},{"p":"b","s":"3.0","c":79,"v":98},{"p":"b","s":"3.0","c":80,"v":112},{"p":"b","s":"3.0","c":81,"v":128},{"p":"b","s":"3.0","c":82,"v":148},{"p":"b","s":"3.0","c":83,"v":162},{"p":"b","s":"3.0","c":84,"v":180},
{"p":"b","s":"3.0","c":85,"v":198},{"p":"b","s":"3.0","c":86,"v":216},{"p":"b","s":"3.0","c":87,"v":235},{"p":"b","s":"3.0","c":88,"v":252},{"p":"b","s":"3.0","c":89,"v":256},{"p":"b","s":"3.0","c":90,"v":225},{"p":"b","s":"3.0","c":91,"v":145},{"p":"b","s":"3.0","c":92,"v":58},{"p":"b","s":"3.0","c":93,"v":-25},{"p":"b","s":"3.0","c":94,"v":-120},
{"p":"b","s":"3.0","c":95,"v":-175},{"p":"b","s":"3.0","c":96,"v":-240},{"p":"b","s":"3.0","c":97,"v":-310},{"p":"b","s":"3.0","c":98,"v":-372},{"p":"b","s":"3.0","c":99,"v":-470},{"p":"b","s":"3.0","c":100,"v":-550},{"p":"b","s":"3.0","c":101,"v":-605},{"p":"b","s":"3.0","c":102,"v":-628},{"p":"b","s":"3.0","c":103,"v":-638},{"p":"b","s":"3.0","c":104,"v":-634},
{"p":"b","s":"3.0","c":105,"v":-618},{"p":"b","s":"3.0","c":106,"v":-550},{"p":"b","s":"3.0","c":107,"v":-445},{"p":"b","s":"3.0","c":108,"v":-350},{"p":"b","s":"3.0","c":109,"v":-250},{"p":"b","s":"3.0","c":110,"v":-150},{"p":"b","s":"3.0","c":111,"v":-40},{"p":"b","s":"3.0","c":112,"v":80},{"p":"b","s":"3.0","c":113,"v":160},{"p":"b","s":"3.0","c":114,"v":195},
{"p":"b","s":"3.0","c":115,"v":205},{"p":"b","s":"3.0","c":116,"v":210},{"p":"b","s":"3.0","c":117,"v":185},{"p":"b","s":"3.0","c":118,"v":148},{"p":"b","s":"3.0","c":119,"v":100},{"p":"b","s":"3.0","c":120,"v":55},{"p":"b","s":"3.0","c":121,"v":25},{"p":"b","s":"3.0","c":122,"v":10},{"p":"b","s":"3.0","c":123,"v":4},{"p":"b","s":"3.0","c":124,"v":2},
{"p":"b","s":"3.0","c":125,"v":1},{"p":"b","s":"3.0","c":126,"v":0},{"p":"b","s":"3.0","c":127,"v":1},{"p":"b","s":"3.0","c":128,"v":2},
{"p":"b","s":"3.5","c":65,"v":0},{"p":"b","s":"3.5","c":66,"v":1},{"p":"b","s":"3.5","c":67,"v":1},{"p":"b","s":"3.5","c":68,"v":3},{"p":"b","s":"3.5","c":69,"v":6},{"p":"b","s":"3.5","c":70,"v":11},{"p":"b","s":"3.5","c":71,"v":17},{"p":"b","s":"3.5","c":72,"v":24},{"p":"b","s":"3.5","c":73,"v":31},{"p":"b","s":"3.5","c":74,"v":38},
{"p":"b","s":"3.5","c":75,"v":46},{"p":"b","s":"3.5","c":76,"v":50},{"p":"b","s":"3.5","c":77,"v":50},{"p":"b","s":"3.5","c":78,"v":57},{"p":"b","s":"3.5","c":79,"v":62},{"p":"b","s":"3.5","c":80,"v":77},{"p":"b","s":"3.5","c":81,"v":95},{"p":"b","s":"3.5","c":82,"v":112},{"p":"b","s":"3.5","c":83,"v":142},{"p":"b","s":"3.5","c":84,"v":165},
{"p":"b","s":"3.5","c":85,"v":187},{"p":"b","s":"3.5","c":86,"v":218},{"p":"b","s":"3.5","c":87,"v":265},{"p":"b","s":"3.5","c":88,"v":291},{"p":"b","s":"3.5","c":89,"v":296},{"p":"b","s":"3.5","c":90,"v":265},{"p":"b","s":"3.5","c":91,"v":193},{"p":"b","s":"3.5","c":92,"v":110},{"p":"b","s":"3.5","c":93,"v":7},{"p":"b","s":"3.5","c":94,"v":-109},
{"p":"b","s":"3.5","c":95,"v":-220},{"p":"b","s":"3.5","c":96,"v":-305},{"p":"b","s":"3.5","c":97,"v":-348},{"p":"b","s":"3.5","c":98,"v":-405},{"p":"b","s":"3.5","c":99,"v":-505},{"p":"b","s":"3.5","c":100,"v":-605},{"p":"b","s":"3.5","c":101,"v":-667},{"p":"b","s":"3.5","c":102,"v":-688},{"p":"b","s":"3.5","c":103,"v":-679},{"p":"b","s":"3.5","c":104,"v":-651},
{"p":"b","s":"3.5","c":105,"v":-607},{"p":"b","s":"3.5","c":106,"v":-537},{"p":"b","s":"3.5","c":107,"v":-435},{"p":"b","s":"3.5","c":108,"v":-318},{"p":"b","s":"3.5","c":109,"v":-200},{"p":"b","s":"3.5","c":110,"v":-75},{"p":"b","s":"3.5","c":111,"v":40},{"p":"b","s":"3.5","c":112,"v":128},{"p":"b","s":"3.5","c":113,"v":179},{"p":"b","s":"3.5","c":114,"v":205},
{"p":"b","s":"3.5","c":115,"v":208},{"p":"b","s":"3.5","c":116,"v":188},{"p":"b","s":"3.5","c":117,"v":160},{"p":"b","s":"3.5","c":118,"v":130},{"p":"b","s":"3.5","c":119,"v":82},{"p":"b","s":"3.5","c":120,"v":45},{"p":"b","s":"3.5","c":121,"v":22},{"p":"b","s":"3.5","c":122,"v":10},{"p":"b","s":"3.5","c":123,"v":5},{"p":"b","s":"3.5","c":124,"v":3},
{"p":"b","s":"3.5","c":125,"v":1},{"p":"b","s":"3.5","c":126,"v":1},{"p":"b","s":"3.5","c":127,"v":2},{"p":"b","s":"3.5","c":128,"v":3}
]},
"spacing": 101.6,
"bounds": "flush",
"resolve": {"scale": {"color": "independent", "shape": "independent", "fill": "independent", "size": "independent", "strokeDash": "independent"}, "legend": {"color": "independent", "shape": "independent", "fill": "independent", "strokeDash": "independent"}},
"hconcat": [
{
  "width": 480.4, "height": 358.8,
  "transform": [{"filter": "datum.p === 'a'"}],
  "title": {"text": "(a)", "orient": "bottom", "anchor": "middle", "font": "DejaVu Serif", "fontWeight": "bold", "fontSize": 19.5, "color": "#000000", "dx": -35, "offset": 11},
  "resolve": {"axis": {"x": "independent", "y": "independent"}, "scale": {"color": "independent", "shape": "independent", "fill": "independent", "size": "independent", "strokeDash": "independent"}},
  "layer": [
    {"mark": {"type": "line", "strokeWidth": 1.5, "clip": true},
     "encoding": {
       "x": {"field": "c", "type": "quantitative", "scale": {"domain": [0,64], "nice": false, "zero": false},
             "axis": {"values": [0,10,20,30,40,50,60], "title": "Channel bin number", "titleY": 46.7, "titleBaseline": "alphabetic", "tickSize": -5, "labelPadding": 15.5, "grid": true}},
       "y": {"field": "v", "type": "quantitative", "scale": {"domain": [-650,400], "nice": false, "zero": false},
             "axis": {"values": [-650,-550,-450,-350,-250,-150,-50,50,150,250,350,400], "title": "Average Reflected Magnitude", "titleX": -49, "titleBaseline": "alphabetic", "tickSize": -5, "labelPadding": 13.3, "grid": true}},
       "color": {"field": "s", "type": "nominal", "scale": {"domain": ["0.5","1.0","1.5","2.0","2.5","3.0","3.5"], "range": ["#0072BD","#D95319","#EDB120","#7E2F8E","#77AC30","#4DBEEE","#A2142F"]}, "legend": null},
       "strokeDash": {"field": "s", "type": "nominal", "scale": {"domain": ["0.5","1.0","1.5","2.0","2.5","3.0","3.5"], "range": [[1,0],[1,0],[1,0],[1,0],[1,0],[1,0],[6,4]]}, "legend": null}
     }},
    {"mark": {"type": "point", "filled": false, "strokeWidth": 1.2, "opacity": 1, "clip": true},
     "encoding": {
       "x": {"field": "c", "type": "quantitative", "axis": {"orient": "top", "values": [0,10,20,30,40,50,60], "labels": false, "title": null, "grid": false, "domain": false, "tickSize": -5}},
       "y": {"field": "v", "type": "quantitative", "axis": {"orient": "right", "values": [-650,-550,-450,-350,-250,-150,-50,50,150,250,350,400], "labels": false, "title": null, "grid": false, "domain": false, "tickSize": -5}},
       "color": {"field": "s", "type": "nominal", "scale": {"domain": ["0.5","1.0","1.5","2.0","2.5","3.0","3.5"], "range": ["#0072BD","#D95319","#EDB120","#7E2F8E","#77AC30","#4DBEEE","#A2142F"]}, "legend": null},
       "shape": {"field": "s", "type": "nominal", "scale": {"domain": ["0.5","1.0","1.5","2.0","2.5","3.0","3.5"], "range": ["M-1,0L1,0M0,-1L0,1","circle","circle","square","triangle-up","triangle-left","M0,-1L0.2245,-0.309L0.951,-0.309L0.3633,0.118L0.588,0.809L0,0.382L-0.588,0.809L-0.3633,0.118L-0.951,-0.309L-0.2245,-0.309Z"]}, "legend": null},
       "fill": {"field": "s", "type": "nominal", "scale": {"domain": ["0.5","1.0","1.5","2.0","2.5","3.0","3.5"], "range": ["transparent","transparent","#EDB120","transparent","transparent","transparent","#A2142F"]}, "legend": null},
       "size": {"field": "s", "type": "nominal", "scale": {"domain": ["0.5","1.0","1.5","2.0","2.5","3.0","3.5"], "range": [49,50,25,20,45,45,110]}, "legend": null}
     }},
    {"transform": [{"filter": "false"}],
     "mark": {"type": "point", "filled": false, "strokeWidth": 1.5},
     "encoding": {
       "color": {"field": "s", "type": "nominal", "scale": {"domain": ["0.5","1.0","1.5","2.0","2.5","3.0","3.5"], "range": ["#0072BD","#D95319","#EDB120","#7E2F8E","#77AC30","#4DBEEE","#A2142F"]},
         "legend": {"legendX": 22.7, "labelExpr": "datum.label + ' mg/ml'"}},
       "shape": {"field": "s", "type": "nominal", "scale": {"domain": ["0.5","1.0","1.5","2.0","2.5","3.0","3.5"], "range": [
           "M-3.9,0L3.9,0M0,-0.6L0,0.6",
           "M-3.9,0L3.9,0M0.67,0A0.67,0.67 0 1,1 -0.67,0A0.67,0.67 0 1,1 0.67,0Z",
           "M-3.9,0L3.9,0M0.5,0A0.5,0.5 0 1,1 -0.5,0A0.5,0.5 0 1,1 0.5,0Z",
           "M-3.9,0L3.9,0M-0.42,-0.42L0.42,-0.42L0.42,0.42L-0.42,0.42Z",
           "M-3.9,0L3.9,0M0,-0.8L0.72,0.45L-0.72,0.45Z",
           "M-3.9,0L3.9,0M-0.8,0L0.45,-0.72L0.45,0.72Z",
           "M-3.9,0L3.9,0M0,-1L0.2245,-0.309L0.951,-0.309L0.3633,0.118L0.588,0.809L0,0.382L-0.588,0.809L-0.3633,0.118L-0.951,-0.309L-0.2245,-0.309Z"]},
         "legend": {"legendX": 22.7, "labelExpr": "datum.label + ' mg/ml'"}},
       "fill": {"field": "s", "type": "nominal", "scale": {"domain": ["0.5","1.0","1.5","2.0","2.5","3.0","3.5"], "range": ["transparent","transparent","#EDB120","transparent","transparent","transparent","#A2142F"]},
         "legend": {"legendX": 22.7, "labelExpr": "datum.label + ' mg/ml'"}},
       "strokeDash": {"field": "s", "type": "nominal", "scale": {"domain": ["0.5","1.0","1.5","2.0","2.5","3.0","3.5"], "range": [[1,0],[1,0],[1,0],[1,0],[1,0],[1,0],[6,4]]},
         "legend": {"legendX": 22.7, "labelExpr": "datum.label + ' mg/ml'"}}
     }}
  ]
},
{
  "width": 473.4, "height": 358.8,
  "transform": [{"filter": "datum.p === 'b'"}],
  "title": {"text": "(b)", "orient": "bottom", "anchor": "middle", "font": "DejaVu Serif", "fontWeight": "bold", "fontSize": 19.5, "color": "#000000", "dx": -24, "offset": 11},
  "resolve": {"axis": {"x": "independent", "y": "independent"}, "scale": {"color": "independent", "shape": "independent", "fill": "independent", "size": "independent", "strokeDash": "independent"}},
  "layer": [
    {"mark": {"type": "line", "strokeWidth": 1.5, "clip": true},
     "encoding": {
       "x": {"field": "c", "type": "quantitative", "scale": {"domain": [65,128], "nice": false, "zero": false},
             "axis": {"values": [65,75,85,95,105,115,125], "title": "Channel bin number", "titleY": 46.7, "titleBaseline": "alphabetic", "tickSize": -5, "labelPadding": 15.5, "grid": true}},
       "y": {"field": "v", "type": "quantitative", "scale": {"domain": [-700,300], "nice": false, "zero": false},
             "axis": {"values": [-700,-600,-500,-400,-300,-200,-100,0,100,200,300], "title": "Average Reflected Magnitude", "titleX": -49, "titleBaseline": "alphabetic", "tickSize": -5, "labelPadding": 13.3, "grid": true}},
       "color": {"field": "s", "type": "nominal", "scale": {"domain": ["0.5","1.0","1.5","2.0","2.5","3.0","3.5"], "range": ["#0072BD","#D95319","#EDB120","#7E2F8E","#77AC30","#4DBEEE","#A2142F"]}, "legend": null},
       "strokeDash": {"field": "s", "type": "nominal", "scale": {"domain": ["0.5","1.0","1.5","2.0","2.5","3.0","3.5"], "range": [[1,0],[1,0],[1,0],[1,0],[1,0],[1,0],[6,4]]}, "legend": null}
     }},
    {"mark": {"type": "point", "filled": false, "strokeWidth": 1.2, "opacity": 1, "clip": true},
     "encoding": {
       "x": {"field": "c", "type": "quantitative", "axis": {"orient": "top", "values": [65,75,85,95,105,115,125], "labels": false, "title": null, "grid": false, "domain": false, "tickSize": -5}},
       "y": {"field": "v", "type": "quantitative", "axis": {"orient": "right", "values": [-700,-600,-500,-400,-300,-200,-100,0,100,200,300], "labels": false, "title": null, "grid": false, "domain": false, "tickSize": -5}},
       "color": {"field": "s", "type": "nominal", "scale": {"domain": ["0.5","1.0","1.5","2.0","2.5","3.0","3.5"], "range": ["#0072BD","#D95319","#EDB120","#7E2F8E","#77AC30","#4DBEEE","#A2142F"]}, "legend": null},
       "shape": {"field": "s", "type": "nominal", "scale": {"domain": ["0.5","1.0","1.5","2.0","2.5","3.0","3.5"], "range": ["M-1,0L1,0M0,-1L0,1","circle","circle","square","triangle-up","triangle-left","M0,-1L0.2245,-0.309L0.951,-0.309L0.3633,0.118L0.588,0.809L0,0.382L-0.588,0.809L-0.3633,0.118L-0.951,-0.309L-0.2245,-0.309Z"]}, "legend": null},
       "fill": {"field": "s", "type": "nominal", "scale": {"domain": ["0.5","1.0","1.5","2.0","2.5","3.0","3.5"], "range": ["transparent","transparent","#EDB120","transparent","transparent","transparent","#A2142F"]}, "legend": null},
       "size": {"field": "s", "type": "nominal", "scale": {"domain": ["0.5","1.0","1.5","2.0","2.5","3.0","3.5"], "range": [49,50,25,20,45,45,110]}, "legend": null}
     }},
    {"transform": [{"filter": "false"}],
     "mark": {"type": "point", "filled": false, "strokeWidth": 1.5},
     "encoding": {
       "color": {"field": "s", "type": "nominal", "scale": {"domain": ["0.5","1.0","1.5","2.0","2.5","3.0","3.5"], "range": ["#0072BD","#D95319","#EDB120","#7E2F8E","#77AC30","#4DBEEE","#A2142F"]},
         "legend": {"legendX": 23, "labelExpr": "datum.label + ' mg/ml'"}},
       "shape": {"field": "s", "type": "nominal", "scale": {"domain": ["0.5","1.0","1.5","2.0","2.5","3.0","3.5"], "range": [
           "M-3.9,0L3.9,0M0,-0.6L0,0.6",
           "M-3.9,0L3.9,0M0.67,0A0.67,0.67 0 1,1 -0.67,0A0.67,0.67 0 1,1 0.67,0Z",
           "M-3.9,0L3.9,0M0.5,0A0.5,0.5 0 1,1 -0.5,0A0.5,0.5 0 1,1 0.5,0Z",
           "M-3.9,0L3.9,0M-0.42,-0.42L0.42,-0.42L0.42,0.42L-0.42,0.42Z",
           "M-3.9,0L3.9,0M0,-0.8L0.72,0.45L-0.72,0.45Z",
           "M-3.9,0L3.9,0M-0.8,0L0.45,-0.72L0.45,0.72Z",
           "M-3.9,0L3.9,0M0,-1L0.2245,-0.309L0.951,-0.309L0.3633,0.118L0.588,0.809L0,0.382L-0.588,0.809L-0.3633,0.118L-0.951,-0.309L-0.2245,-0.309Z"]},
         "legend": {"legendX": 23, "labelExpr": "datum.label + ' mg/ml'"}},
       "fill": {"field": "s", "type": "nominal", "scale": {"domain": ["0.5","1.0","1.5","2.0","2.5","3.0","3.5"], "range": ["transparent","transparent","#EDB120","transparent","transparent","transparent","#A2142F"]},
         "legend": {"legendX": 23, "labelExpr": "datum.label + ' mg/ml'"}},
       "strokeDash": {"field": "s", "type": "nominal", "scale": {"domain": ["0.5","1.0","1.5","2.0","2.5","3.0","3.5"], "range": [[1,0],[1,0],[1,0],[1,0],[1,0],[1,0],[6,4]]},
         "legend": {"legendX": 23, "labelExpr": "datum.label + ' mg/ml'"}}
     }}
  ]
}
]
}
